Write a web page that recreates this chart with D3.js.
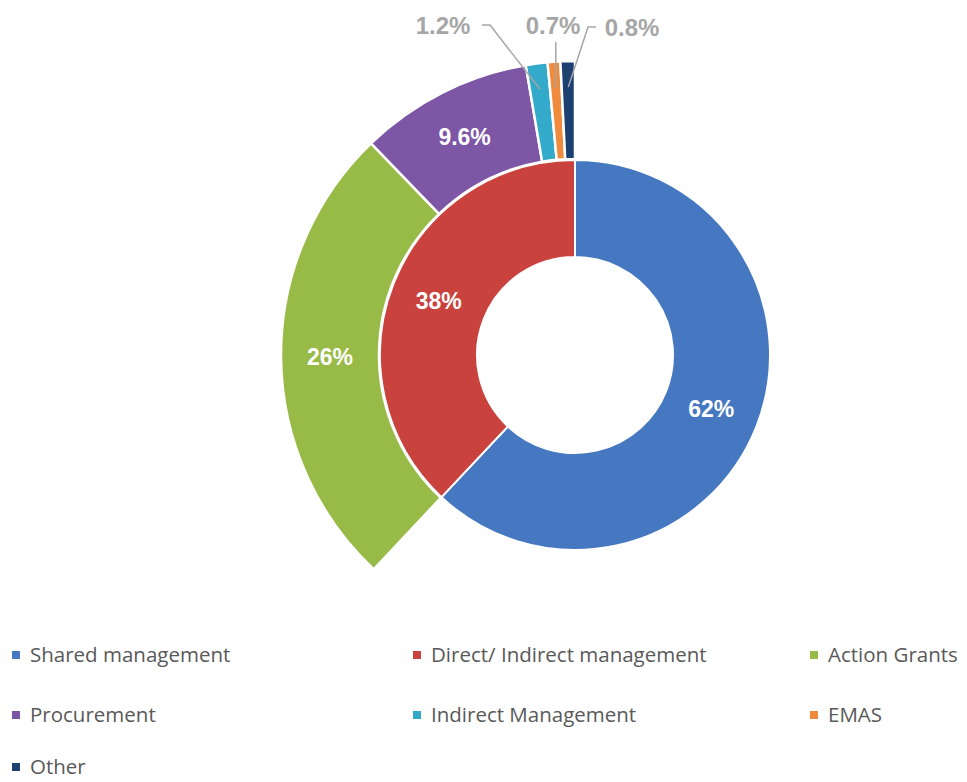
<!DOCTYPE html>
<html>
<head>
<meta charset="utf-8">
<script src="https://cdn.jsdelivr.net/npm/d3@7"></script>
<style>
  body { margin: 0; background: #fff; }
  svg { display: block; }
</style>
</head>
<body>
<svg id="chart" width="967" height="782"></svg>
<script>
// inner ring: management mode
var innerNames = ['Shared management', 'Direct/ Indirect management']
var innerValues = [62, 38]
var innerLabels = ['62%', '38%']

// outer ring: breakdown of direct/indirect
var outerNames = ['Action Grants', 'Procurement', 'Indirect Management', 'EMAS', 'Other']
var outerValues = [26, 9.6, 1.2, 0.7, 0.8]
var outerLabels = ['26%', '9.6%', '1.2%', '0.7%', '0.8%']

var legendNames = ['Shared management', 'Direct/ Indirect management', 'Action Grants',
  'Procurement', 'Indirect Management', 'EMAS', 'Other']
var colors = ['#4677c1', '#c9423d', '#98bb47', '#7d56a6', '#33aac9', '#f08b3e', '#1c4170']

var svg = d3.select('#chart')
var cx = 575, cy = 355
var g = svg.append('g').attr('transform', 'translate(' + cx + ',' + cy + ')')

var color = d3.scaleOrdinal().domain(legendNames).range(colors)

var innerPie = d3.pie().sort(null).value(function (d) { return d.v })
var innerArcs = innerPie(innerValues.map(function (v, i) {
  return {v: v, name: innerNames[i], label: innerLabels[i]}
}))

var innerArc = d3.arc().innerRadius(98).outerRadius(195)

g.selectAll('path.inner')
  .data(innerArcs)
  .enter()
  .append('path')
  .attr('class', 'inner')
  .attr('d', innerArc)
  .attr('fill', function (d) { return color(d.data.name) })
  .attr('stroke', '#fff')
  .attr('stroke-width', 2)

// outer ring spans the angle of the direct/indirect slice
var red = innerArcs[1]
var outerPie = d3.pie().sort(null)
  .startAngle(red.startAngle)
  .endAngle(red.endAngle)
  .value(function (d) { return d.v })
var outerArcs = outerPie(outerValues.map(function (v, i) {
  return {v: v, name: outerNames[i], label: outerLabels[i]}
}))

var outerArc = d3.arc().innerRadius(196).outerRadius(294)

g.selectAll('path.outer')
  .data(outerArcs)
  .enter()
  .append('path')
  .attr('class', 'outer')
  .attr('d', outerArc)
  .attr('fill', function (d) { return color(d.data.name) })
  .attr('stroke', '#fff')
  .attr('stroke-width', 2.5)

// labels inside the big slices
var bigLabels = innerArcs.map(function (d) { return {c: innerArc.centroid(d), t: d.data.label} })
  .concat(outerArcs.slice(0, 2).map(function (d) { return {c: outerArc.centroid(d), t: d.data.label} }))

g.selectAll('text.in')
  .data(bigLabels)
  .enter()
  .append('text')
  .attr('class', 'in')
  .attr('x', function (d) { return d.c[0] })
  .attr('y', function (d) { return d.c[1] })
  .attr('dy', '0.36em')
  .attr('text-anchor', 'middle')
  .attr('fill', '#fff')
  .attr('font-family', 'Liberation Sans, Arial, sans-serif')
  .attr('font-weight', 'bold')
  .attr('font-size', 23)
  .text(function (d) { return d.t })

// small slices: labels above with leader lines
var small = outerArcs.slice(2)
var labelOffsets = [[-132, -330], [-22, -330], [57, -328]]
var hookDx = [8, 0, -8]

small.forEach(function (d, i) {
  var a = (d.startAngle + d.endAngle) / 2
  var r = 268
  var px = Math.sin(a) * r, py = -Math.cos(a) * r
  var lx = labelOffsets[i][0], ly = labelOffsets[i][1]
  var pts
  if (i === 1) {
    pts = [[px, ly + 17], [px, py]]
  } else {
    var ex = lx + (i === 0 ? 39 : -36)
    pts = [[ex, ly], [ex + hookDx[i], ly], [px, py]]
  }
  g.append('path')
    .attr('d', d3.line()(pts))
    .attr('fill', 'none')
    .attr('stroke', '#a6a6a6')
    .attr('stroke-width', 1.5)
  g.append('text')
    .attr('x', lx)
    .attr('y', ly)
    .attr('dy', '0.36em')
    .attr('text-anchor', 'middle')
    .attr('fill', '#a6a6a6')
    .attr('font-family', 'Liberation Sans, Arial, sans-serif')
    .attr('font-weight', 'bold')
    .attr('font-size', 24)
    .text(d.data.label)
})

// legend
var colX = [12, 413, 810]
var rowY = [655, 715, 767]
var legend = svg.selectAll('g.leg')
  .data(legendNames)
  .enter()
  .append('g')
  .attr('class', 'leg')
  .attr('transform', function (d, i) {
    return 'translate(' + colX[i % 3] + ',' + rowY[Math.floor(i / 3)] + ')'
  })

legend.append('rect')
  .attr('x', 0)
  .attr('y', -4)
  .attr('width', 8)
  .attr('height', 8)
  .attr('fill', function (d) { return color(d) })

legend.append('text')
  .attr('x', 18)
  .attr('y', 0)
  .attr('dy', '0.35em')
  .attr('fill', '#595959')
  .attr('font-family', 'Open Sans, sans-serif')
  .attr('font-size', 20.5)
  .text(function (d) { return d })
</script>
</body>
</html>
